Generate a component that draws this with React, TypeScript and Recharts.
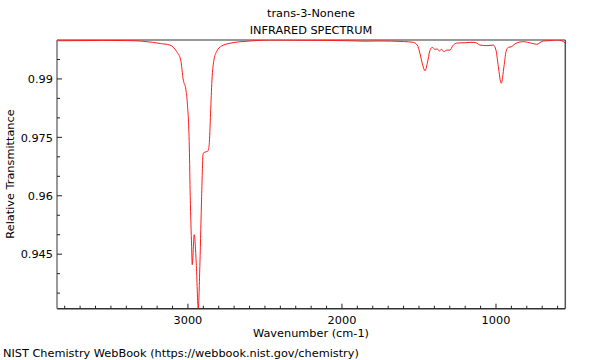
import React from 'react';
import { LineChart, Line, XAxis, YAxis, ReferenceLine } from 'recharts';

const wavenumbers = [
  3850, 3700, 3550, 3400, 3300, 3230, 3180, 3117, 3073, 3047,
  3030, 3013, 3004, 2991, 2985, 2976, 2972, 2959, 2946, 2933,
  2922, 2911, 2901, 2890, 2872, 2862, 2853, 2844, 2831, 2814,
  2781, 2727, 2597, 2468, 2300, 2100, 1950, 1850, 1753, 1600,
  1537, 1511, 1494, 1476, 1461, 1446, 1429, 1414, 1396, 1381,
  1368, 1353, 1338, 1320, 1299, 1281, 1255, 1200, 1147, 1125,
  1104, 1060, 1017, 1000, 985, 966, 948, 935, 920, 898,
  877, 823, 768, 736, 693, 649, 606, 573, 550,
];

const transmittance = [
  0.9998, 0.99985, 0.9999, 0.99985, 0.9997, 0.9994, 0.9991, 0.9987, 0.997, 0.9949,
  0.9897, 0.9872, 0.9838, 0.9726, 0.9598, 0.947, 0.9423, 0.95, 0.9427, 0.9311,
  0.9428, 0.9598, 0.9709, 0.9712, 0.9714, 0.9731, 0.9812, 0.9897, 0.9949, 0.997,
  0.99846, 0.99916, 0.99975, 1.0, 0.99995, 0.9999, 0.9998, 0.9997, 0.99975, 0.9996,
  0.9994, 0.9987, 0.9966, 0.9936, 0.9921, 0.994, 0.9973, 0.9981, 0.9976, 0.9977,
  0.9972, 0.9976, 0.997, 0.9974, 0.9974, 0.9985, 0.9992, 0.9993, 0.9994, 0.9992,
  0.9987, 0.99855, 0.9987, 0.9974, 0.9932, 0.9889, 0.9932, 0.997, 0.9981, 0.9983,
  0.999, 0.99957, 0.99916, 0.9989, 0.99975, 0.99983, 1.0, 0.9998, 0.9992,
];

const xTicks = [
  600, 700, 800, 900, 1000, 1100, 1200, 1300, 1400, 1500, 1600, 1700, 1800, 1900,
  2000, 2100, 2200, 2300, 2400, 2500, 2600, 2700, 2800, 2900, 3000, 3100, 3200,
  3300, 3400, 3500, 3600, 3700, 3800,
];
const xMajor = [1000, 2000, 3000];
const yTicks = [0.935, 0.94, 0.945, 0.95, 0.955, 0.96, 0.965, 0.97, 0.975, 0.98, 0.985, 0.99, 0.995];
const yMajor = [0.945, 0.96, 0.975, 0.99];

const titleLine1 = 'trans-3-Nonene';
const titleLine2 = 'INFRARED SPECTRUM';
const xTitle = 'Wavenumber (cm-1)';
const yTitle = 'Relative Transmittance';
const footer = 'NIST Chemistry WebBook (https://webbook.nist.gov/chemistry)';

const data = wavenumbers.map((w, i) => ({ wn: w, t: transmittance[i] }));

const FONT = '"DejaVu Sans", sans-serif';
const FS = 11.3;

const XTick = (props: any) => {
  const { x, y, payload } = props;
  const v = payload.value;
  const major = xMajor.includes(v);
  return (
    <g>
      <line x1={x} x2={x} y1={y} y2={y - (major ? 5 : 3)} stroke="#222" strokeWidth={1} />
      {major && (
        <text x={x} y={y + 15} textAnchor="middle" fontFamily={FONT} fontSize={FS} fill="#000">
          {v}
        </text>
      )}
    </g>
  );
};

const YTick = (props: any) => {
  const { x, y, payload } = props;
  const v = payload.value;
  const major = yMajor.some((m) => Math.abs(m - v) < 1e-9);
  return (
    <g>
      <line x1={x} x2={x + (major ? 5 : 3)} y1={y} y2={y} stroke="#222" strokeWidth={1} />
      {major && (
        <text x={x - 4} y={y + 4.2} textAnchor="end" fontFamily={FONT} fontSize={FS} fill="#000">
          {String(v)}
        </text>
      )}
    </g>
  );
};

export default function App() {
  return (
    <div style={{ position: 'absolute', left: 0, top: 0, width: 600, height: 360, background: '#fff' }}>
      <LineChart
        width={600}
        height={360}
        data={data}
        margin={{ top: 40, right: 34.7, left: 0, bottom: 21.3 }}
      >
        <XAxis
          dataKey="wn"
          type="number"
          domain={[550, 3850]}
          reversed
          allowDataOverflow
          ticks={xTicks}
          interval={0}
          tick={<XTick />}
          tickLine={false}
          tickSize={0}
          tickMargin={0}
          height={30}
          axisLine={{ stroke: '#333', strokeWidth: 1.5 }}
        />
        <YAxis
          dataKey="t"
          type="number"
          domain={[0.931, 1.0]}
          allowDataOverflow
          ticks={yTicks}
          interval={0}
          tick={<YTick />}
          tickLine={false}
          tickSize={0}
          tickMargin={0}
          width={57}
          axisLine={{ stroke: '#777', strokeWidth: 1.5 }}
        />
        <ReferenceLine y={1.0} stroke="#999" strokeWidth={2} />
        <ReferenceLine x={550} stroke="#555" strokeWidth={1.5} />
        <Line
          type="monotone"
          dataKey="t"
          stroke="#ff1a1a"
          strokeWidth={1}
          dot={false}
          isAnimationActive={false}
        />
      </LineChart>
      <svg
        width={600}
        height={360}
        style={{ position: 'absolute', left: 0, top: 0, pointerEvents: 'none' }}
      >
        <g fontFamily={FONT} fontSize={FS} fill="#000">
          <text x={311} y={17} textAnchor="middle">{titleLine1}</text>
          <text x={311} y={34} textAnchor="middle">{titleLine2}</text>
          <text x={311} y={336.5} textAnchor="middle">{xTitle}</text>
          <text x={14} y={174} textAnchor="middle" transform="rotate(-90 14 174)">{yTitle}</text>
          <text x={3} y={357} textAnchor="start">{footer}</text>
        </g>
      </svg>
    </div>
  );
}
